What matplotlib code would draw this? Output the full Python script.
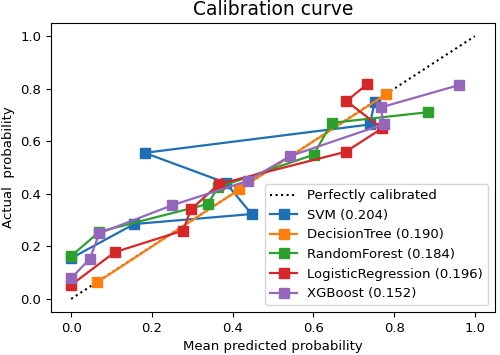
import matplotlib
matplotlib.use("Agg")
import matplotlib.pyplot as plt

svm_x = [0.0, 0.156, 0.447, 0.383, 0.182, 0.740, 0.752]
svm_y = [0.155, 0.285, 0.323, 0.442, 0.556, 0.664, 0.750]

dt_x = [0.064, 0.417, 0.780]
dt_y = [0.063, 0.417, 0.779]

rf_x = [0.0, 0.070, 0.338, 0.364, 0.601, 0.645, 0.885]
rf_y = [0.163, 0.256, 0.361, 0.425, 0.549, 0.670, 0.711]

lr_x = [0.0, 0.108, 0.277, 0.297, 0.366, 0.680, 0.770, 0.682, 0.733]
lr_y = [0.053, 0.178, 0.260, 0.341, 0.437, 0.560, 0.649, 0.753, 0.817]

xgb_x = [0.0, 0.046, 0.070, 0.251, 0.437, 0.543, 0.774, 0.767, 0.961]
xgb_y = [0.079, 0.152, 0.250, 0.357, 0.449, 0.544, 0.665, 0.729, 0.814]

labels = ["SVM (0.204)", "DecisionTree (0.190)", "RandomForest (0.184)",
          "LogisticRegression (0.196)", "XGBoost (0.152)"]
series = [(svm_x, svm_y), (dt_x, dt_y), (rf_x, rf_y), (lr_x, lr_y), (xgb_x, xgb_y)]
colors = ["#1f6fb4", "#ff7f0e", "#2ca02c", "#d62728", "#9467bd"]

fig = plt.figure(figsize=(5, 3.55), dpi=100)
ax = fig.add_axes([0.102, 0.121, 0.888, 0.814])
ax.plot([0, 1], [0, 1], "k:", label="Perfectly calibrated")
for (xs, ys), lab, c in zip(series, labels, colors):
    ax.plot(xs, ys, "s-", color=c, label=lab, markersize=6.5, linewidth=1.6)

ax.set_xticks([0.0, 0.2, 0.4, 0.6, 0.8, 1.0])
ax.set_yticks([0.0, 0.2, 0.4, 0.6, 0.8, 1.0])
ax.tick_params(labelsize=9.5)
ax.set_title("Calibration curve", fontsize=13.5)
ax.set_xlabel("Mean predicted probability", fontsize=9.5)
ax.set_ylabel("Actual  probability", fontsize=9.5)
ax.legend(loc="lower right", fontsize=9.5)
fig.savefig("out.png", dpi=100)
